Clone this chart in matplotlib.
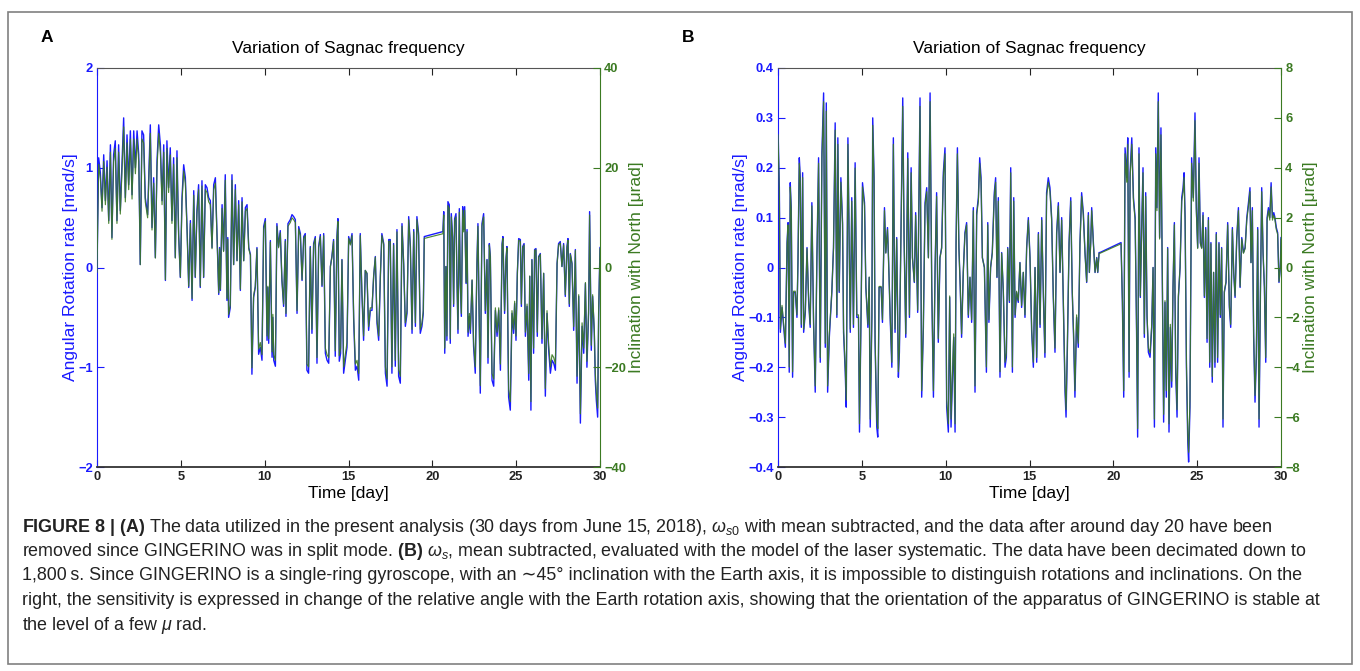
import numpy as np
import matplotlib
matplotlib.use("Agg")
import matplotlib.pyplot as plt
from matplotlib.patches import Rectangle

plt.rcParams['font.family'] = ['Liberation Sans', 'DejaVu Sans']
plt.rcParams['mathtext.fontset'] = 'custom'
plt.rcParams['mathtext.rm'] = 'Liberation Sans'
plt.rcParams['mathtext.it'] = 'Liberation Sans:italic'
plt.rcParams['mathtext.bf'] = 'Liberation Sans:bold'

# (day, angular rotation rate [nrad/s])
samples_a = [
    (0.00, -0.05), (0.04, 0.45), (0.10, 1.10), (0.20, 0.95), (0.30, 0.60), (0.40, 1.13),
    (0.50, 0.67), (0.60, 1.07), (0.70, 0.47), (0.80, 1.23), (0.89, 0.30), (0.99, 1.13),
    (1.09, 1.27), (1.19, 0.47), (1.29, 1.23), (1.39, 0.57), (1.59, 1.50), (1.69, 0.70),
    (1.79, 1.33), (1.89, 0.83), (1.99, 1.37), (2.09, 0.73), (2.19, 1.37), (2.29, 1.00),
    (2.39, 1.37), (2.49, 1.13), (2.58, 0.03), (2.68, 1.37), (2.78, 1.33), (2.88, 0.70),
    (3.02, 0.53), (3.18, 1.43), (3.28, 0.40), (3.38, 0.90), (3.48, 0.10), (3.58, 1.07),
    (3.68, 1.43), (3.78, 1.23), (3.88, 0.67), (3.98, 1.23), (4.08, -0.13), (4.17, 1.27),
    (4.27, 0.80), (4.37, 1.20), (4.47, 0.47), (4.57, 1.10), (4.67, 0.10), (4.77, 1.17),
    (4.87, 0.33), (4.97, -0.10), (5.07, 0.70), (5.17, 1.03), (5.27, 0.90), (5.37, 0.40),
    (5.47, -0.20), (5.57, 0.47), (5.67, -0.33), (5.77, 0.77), (5.86, -0.10), (5.96, 0.57),
    (6.06, 0.83), (6.16, -0.20), (6.26, 0.87), (6.36, -0.10), (6.46, 0.83), (6.56, 0.80),
    (6.66, 0.70), (6.76, 0.67), (6.86, 0.20), (6.96, 0.83), (7.06, 0.90), (7.16, 0.30),
    (7.26, -0.27), (7.31, 0.20), (7.36, -0.23), (7.46, 0.63), (7.55, 0.17), (7.65, 0.93),
    (7.75, -0.33), (7.80, 0.30), (7.85, -0.50), (7.95, -0.40), (8.05, 0.93), (8.15, 0.03),
    (8.25, 0.83), (8.35, 0.07), (8.45, 0.67), (8.55, -0.23), (8.65, 0.70), (8.75, 0.07),
    (8.85, 0.60), (8.95, 0.63), (9.05, 0.20), (9.15, 0.13), (9.24, -1.07), (9.34, -0.30),
    (9.44, -0.20), (9.54, 0.20), (9.64, -0.87), (9.74, -0.80), (9.84, -0.93), (9.94, 0.41),
    (10.04, 0.49), (10.14, -0.73), (10.19, -0.20), (10.24, -0.76), (10.34, 0.27), (10.44, -0.90),
    (10.49, -0.50), (10.54, -0.93), (10.64, -0.99), (10.73, 0.44), (10.83, 0.21), (10.93, 0.37),
    (11.03, -0.13), (11.13, -0.39), (11.23, 0.28), (11.27, -0.49), (11.39, 0.44), (11.53, 0.48),
    (11.63, 0.53), (11.73, 0.51), (11.83, 0.48), (11.93, -0.46), (12.03, 0.41), (12.13, 0.34),
    (12.23, -0.13), (12.33, 0.31), (12.42, 0.34), (12.52, -1.03), (12.62, -1.06), (12.72, 0.21),
    (12.82, -0.66), (12.92, 0.24), (13.02, 0.31), (13.12, -0.96), (13.22, 0.21), (13.32, 0.33),
    (13.42, -0.19), (13.52, 0.34), (13.62, -0.86), (13.72, -0.93), (13.82, -0.96), (13.92, 0.01),
    (14.01, 0.11), (14.11, 0.28), (14.21, -0.89), (14.31, 0.31), (14.37, 0.49), (14.45, -0.94),
    (14.53, -0.86), (14.61, 0.08), (14.71, -1.06), (14.81, -0.93), (14.91, -0.80), (15.01, 0.31),
    (15.11, 0.24), (15.21, 0.34), (15.31, -0.53), (15.41, -1.03), (15.51, -0.99), (15.61, -1.13),
    (15.70, 0.34), (15.80, -0.26), (15.90, -0.73), (16.00, -0.03), (16.10, -0.06), (16.20, -0.63),
    (16.30, -0.43), (16.40, -0.43), (16.50, -0.09), (16.60, 0.11), (16.70, -0.56), (16.80, -0.73),
    (16.90, -0.09), (16.99, 0.34), (17.10, 0.24), (17.20, -1.06), (17.30, -1.19), (17.40, 0.28),
    (17.49, 0.28), (17.59, -1.06), (17.69, 0.24), (17.79, -0.99), (17.89, 0.38), (17.99, -1.09),
    (18.09, -1.16), (18.19, 0.44), (18.29, 0.04), (18.39, -0.59), (18.49, -0.46), (18.59, 0.51),
    (18.69, 0.21), (18.79, -0.66), (18.89, 0.38), (18.99, -0.59), (19.08, 0.51), (19.18, 0.34),
    (19.28, -0.66), (19.38, -0.59), (19.46, -0.46), (19.52, 0.31),
    (20.63, 0.36), (20.68, 0.56), (20.74, -0.86), (20.81, 0.01), (20.87, -0.73), (20.93, 0.66),
    (21.01, 0.63), (21.07, -0.76), (21.13, 0.54), (21.21, 0.31), (21.27, -0.39), (21.33, 0.49),
    (21.41, 0.54), (21.47, -0.13), (21.53, -0.66), (21.61, 0.59), (21.67, -0.16), (21.73, -0.49),
    (21.81, 0.61), (21.87, 0.38), (21.93, 0.61), (22.01, -0.16), (22.07, 0.38), (22.13, -0.69),
    (22.21, -0.49), (22.27, -0.66), (22.37, -0.13), (22.46, -0.79), (22.56, -1.06), (22.66, 0.04),
    (22.72, 0.44), (22.80, -0.59), (22.86, -1.26), (22.96, 0.44), (23.06, 0.54), (23.16, -0.46),
    (23.26, 0.08), (23.32, -0.96), (23.40, 0.24), (23.46, 0.11), (23.56, -1.13), (23.66, -1.19),
    (23.76, -0.43), (23.86, -0.69), (23.96, -0.43), (24.06, -1.03), (24.16, 0.24), (24.21, 0.31),
    (24.31, -0.46), (24.39, 0.08), (24.45, 0.21), (24.55, -1.30), (24.65, -1.43), (24.75, -0.46),
    (24.85, -0.66), (24.91, -0.36), (24.99, -0.73), (25.07, -0.06), (25.15, 0.29), (25.25, 0.28),
    (25.31, -0.39), (25.39, 0.21), (25.47, 0.24), (25.55, -0.69), (25.65, -0.39), (25.75, -1.13),
    (25.81, -0.09), (25.88, -1.43), (25.94, 0.08), (26.04, -0.86), (26.10, 0.18), (26.18, 0.19),
    (26.26, -0.69), (26.34, 0.11), (26.44, 0.14), (26.54, -0.76), (26.64, -0.06), (26.74, -1.29),
    (26.84, -0.46), (26.94, -0.83), (27.04, -1.06), (27.14, -0.93), (27.24, -0.96), (27.34, -1.03),
    (27.44, 0.04), (27.53, 0.24), (27.63, 0.26), (27.73, 0.01), (27.83, 0.24), (27.93, -0.29),
    (28.03, 0.21), (28.09, 0.29), (28.17, -0.39), (28.23, 0.14), (28.33, 0.04), (28.43, -0.63),
    (28.53, 0.18), (28.63, -1.16), (28.73, -0.29), (28.83, -1.56), (28.93, -0.59), (29.03, -0.86),
    (29.13, -0.16), (29.22, -1.00), (29.32, -0.46), (29.38, 0.56), (29.48, -0.83), (29.56, -0.29),
    (29.66, -0.66), (29.72, -1.13), (29.78, -1.33), (29.86, -1.50), (29.92, -0.46), (30.00, 0.20),
]

# (day, angular rotation rate [nrad/s])
samples_b = [
    (0.00, 0.28), (0.08, 0.16), (0.14, -0.13), (0.24, -0.08), (0.34, -0.12), (0.44, -0.16),
    (0.54, 0.05), (0.60, 0.09), (0.67, -0.21), (0.73, 0.17), (0.79, 0.12), (0.87, -0.22),
    (0.93, -0.05), (1.03, -0.05), (1.13, -0.10), (1.19, 0.01), (1.27, 0.22), (1.33, 0.18),
    (1.39, -0.12), (1.47, 0.19), (1.53, -0.13), (1.63, -0.09), (1.73, 0.04), (1.83, -0.07),
    (1.92, -0.12), (2.02, 0.13), (2.12, -0.11), (2.22, -0.25), (2.32, 0.02), (2.42, 0.22),
    (2.52, -0.19), (2.62, 0.23), (2.72, 0.35), (2.82, -0.16), (2.88, 0.33), (2.96, -0.25),
    (3.06, -0.14), (3.21, -0.05), (3.31, 0.04), (3.41, 0.29), (3.51, -0.10), (3.57, 0.26),
    (3.65, -0.05), (3.75, 0.18), (3.85, 0.09), (3.91, -0.13), (4.01, -0.21), (4.07, -0.28),
    (4.17, 0.26), (4.31, -0.13), (4.40, 0.14), (4.50, -0.12), (4.60, 0.21), (4.70, -0.10),
    (4.80, -0.10), (4.86, -0.33), (4.96, -0.08), (5.04, 0.17), (5.16, 0.13), (5.24, -0.04),
    (5.36, -0.12), (5.44, -0.02), (5.50, -0.32), (5.60, -0.10), (5.65, 0.30), (5.73, 0.18),
    (5.79, -0.15), (5.89, -0.32), (5.95, -0.34), (6.03, -0.04), (6.15, -0.04), (6.23, -0.11),
    (6.35, 0.12), (6.43, 0.03), (6.53, 0.08), (6.59, 0.02), (6.69, -0.10), (6.79, -0.20),
    (6.88, 0.26), (6.98, -0.13), (7.08, 0.06), (7.18, -0.22), (7.24, -0.17), (7.34, 0.09),
    (7.44, 0.34), (7.52, 0.06), (7.62, -0.14), (7.74, 0.23), (7.84, -0.10), (7.94, 0.20),
    (8.02, 0.02), (8.13, -0.03), (8.21, 0.11), (8.33, -0.09), (8.41, 0.15), (8.47, 0.34),
    (8.57, -0.26), (8.67, -0.12), (8.77, 0.13), (8.87, 0.16), (8.97, 0.02), (9.07, 0.35),
    (9.17, -0.04), (9.27, -0.26), (9.37, 0.00), (9.46, 0.15), (9.56, -0.15), (9.66, 0.02),
    (9.76, 0.04), (9.86, 0.19), (9.96, 0.24), (10.06, -0.28), (10.16, -0.33), (10.24, -0.06),
    (10.32, -0.32), (10.40, -0.23), (10.48, -0.14), (10.56, -0.33), (10.62, 0.05), (10.70, 0.24),
    (10.79, 0.04), (10.87, -0.04), (10.95, -0.14), (11.05, -0.01), (11.15, 0.07), (11.25, 0.09),
    (11.35, -0.10), (11.45, -0.02), (11.55, -0.11), (11.65, 0.12), (11.75, -0.25), (11.85, 0.11),
    (11.95, 0.14), (12.03, 0.22), (12.11, 0.18), (12.19, 0.02), (12.31, 0.00), (12.43, -0.21),
    (12.51, 0.09), (12.58, -0.11), (12.68, 0.00), (12.78, 0.03), (12.90, 0.15), (12.98, 0.18),
    (13.06, -0.02), (13.14, 0.14), (13.24, -0.22), (13.34, 0.03), (13.44, -0.05), (13.54, -0.20),
    (13.62, -0.18), (13.70, 0.04), (13.80, -0.07), (13.88, 0.20), (13.98, -0.21), (14.06, 0.14),
    (14.14, -0.10), (14.23, -0.05), (14.33, -0.07), (14.43, 0.01), (14.53, -0.08), (14.63, -0.01),
    (14.73, -0.10), (14.83, 0.04), (14.93, 0.10), (15.03, 0.02), (15.13, -0.13), (15.23, -0.20),
    (15.33, 0.00), (15.43, -0.19), (15.53, 0.07), (15.63, -0.12), (15.73, 0.10), (15.83, -0.06),
    (15.92, -0.18), (16.02, 0.15), (16.12, 0.18), (16.22, 0.16), (16.32, 0.10), (16.42, -0.06),
    (16.52, -0.17), (16.62, 0.07), (16.72, 0.13), (16.82, -0.01), (16.92, 0.10), (17.02, -0.07),
    (17.12, -0.25), (17.18, -0.30), (17.26, -0.16), (17.36, 0.05), (17.46, 0.14), (17.55, -0.05),
    (17.63, -0.14), (17.71, -0.26), (17.81, -0.10), (17.91, -0.16), (18.01, 0.05), (18.11, 0.15),
    (18.21, 0.11), (18.31, 0.03), (18.41, -0.03), (18.51, 0.11), (18.57, -0.01), (18.65, 0.05),
    (18.71, 0.12), (18.81, 0.05), (18.91, -0.01), (19.01, 0.02), (19.07, -0.01), (19.15, 0.03),
    (19.20, 0.03),
    (20.46, 0.05), (20.54, -0.07), (20.62, -0.26), (20.70, 0.24), (20.80, 0.18), (20.86, 0.26),
    (20.94, -0.22), (21.00, 0.19), (21.10, 0.26), (21.20, 0.14), (21.30, 0.10), (21.39, -0.14),
    (21.45, -0.34), (21.53, 0.24), (21.61, -0.06), (21.69, 0.08), (21.77, 0.20), (21.85, -0.14),
    (21.93, 0.15), (22.01, -0.10), (22.09, -0.17), (22.19, -0.18), (22.29, -0.12), (22.37, 0.00),
    (22.45, -0.32), (22.53, 0.24), (22.60, 0.12), (22.68, 0.35), (22.76, 0.06), (22.84, 0.28),
    (22.92, -0.01), (23.00, -0.31), (23.08, -0.07), (23.16, -0.26), (23.24, 0.04), (23.32, -0.33),
    (23.40, -0.12), (23.48, -0.24), (23.56, -0.04), (23.64, 0.09), (23.72, -0.21), (23.80, -0.30),
    (23.88, -0.06), (23.98, 0.00), (24.08, 0.14), (24.16, 0.16), (24.22, 0.19), (24.28, 0.10),
    (24.36, -0.20), (24.44, -0.35), (24.49, -0.39), (24.57, -0.28), (24.67, 0.22), (24.77, 0.14),
    (24.87, 0.31), (24.95, 0.12), (25.03, 0.04), (25.11, 0.22), (25.19, 0.05), (25.27, 0.04),
    (25.35, 0.11), (25.43, -0.06), (25.51, 0.08), (25.59, -0.15), (25.67, 0.10), (25.75, -0.20),
    (25.82, 0.05), (25.90, -0.23), (25.98, -0.01), (26.06, -0.20), (26.14, 0.07), (26.22, -0.19),
    (26.30, 0.05), (26.38, -0.10), (26.46, 0.04), (26.54, -0.32), (26.62, -0.05), (26.72, -0.03),
    (26.82, 0.09), (26.92, -0.08), (27.00, -0.12), (27.10, 0.08), (27.18, -0.01), (27.26, -0.06),
    (27.36, 0.06), (27.46, 0.12), (27.56, -0.04), (27.66, 0.06), (27.76, 0.03), (27.86, 0.04),
    (27.96, 0.10), (28.06, 0.13), (28.15, 0.16), (28.21, 0.01), (28.29, 0.12), (28.37, -0.14),
    (28.45, -0.27), (28.53, -0.18), (28.61, 0.08), (28.69, -0.32), (28.77, -0.06), (28.85, 0.16),
    (28.93, 0.03), (29.01, -0.04), (29.09, -0.19), (29.17, 0.10), (29.25, 0.12), (29.33, 0.10),
    (29.41, 0.17), (29.49, 0.10), (29.57, 0.11), (29.64, 0.10), (29.72, 0.08), (29.80, 0.07),
    (29.88, -0.03), (29.96, 0.00), (30.00, 0.06),
]

# inclination with North (µrad) per nrad/s
urad_per_rate_a = 18.8
urad_per_rate_b = 19.0

day_a, rate_a = np.array(samples_a).T
day_b, rate_b = np.array(samples_b).T

rate_ticks_a = [-2, -1, 0, 1, 2]
incl_ticks_a = [-40, -20, 0, 20, 40]
rate_ticks_b = [-0.4, -0.3, -0.2, -0.1, 0, 0.1, 0.2, 0.3, 0.4]
incl_ticks_b = [-8, -6, -4, -2, 0, 2, 4, 6, 8]
day_ticks = [0, 5, 10, 15, 20, 25, 30]

BLUE = '#1a1aff'
GREEN = '#3b7a22'

W, H = 1360, 671
fig = plt.figure(figsize=(W / 100, H / 100), dpi=100)


def panel(x0, rate_days, rate, k, rticks, iticks, rfmt):
    ax = fig.add_axes([x0 / W, 1 - 467 / H, 503 / W, 399 / H])
    ax2 = ax.twinx()
    ax.plot(rate_days, rate, color=BLUE, lw=1.0)
    ax2.plot(rate_days, rate * k, color=GREEN, lw=0.85, alpha=0.9)
    ax.set_xlim(0, 30)
    ax.set_ylim(rticks[0], rticks[-1])
    ax2.set_ylim(iticks[0], iticks[-1])
    ax.set_xticks(day_ticks)
    ax.set_yticks(rticks)
    ax.set_yticklabels([rfmt(t) for t in rticks])
    ax2.set_yticks(iticks)
    ax2.set_yticklabels([str(t).replace('-', '\u2212') for t in iticks])
    ax.tick_params(axis='x', direction='in', length=5, width=0.8, top=True,
                   labelsize=9.3, pad=3, colors='#222222')
    ax.tick_params(axis='y', direction='in', length=5, width=0.8, colors=BLUE,
                   labelsize=9.3, pad=3)
    ax2.tick_params(axis='y', direction='in', length=5, width=0.8, colors=GREEN,
                    labelsize=9.3, pad=3)
    for t in ax.get_xticklabels() + ax.get_yticklabels() + ax2.get_yticklabels():
        t.set_fontweight('bold')
    ax.spines['left'].set_color(BLUE)
    ax.spines['bottom'].set_color('#333333')
    ax.spines['bottom'].set_linewidth(1.3)
    ax.spines['top'].set_color('#555555')
    ax.spines['right'].set_visible(False)
    ax2.spines['right'].set_color(GREEN)
    ax2.spines['left'].set_visible(False)
    ax2.spines['top'].set_visible(False)
    ax2.spines['bottom'].set_visible(False)
    ax.set_xlabel('Time [day]', fontsize=12.5, labelpad=2)
    ax.set_ylabel('Angular Rotation rate [nrad/s]', fontsize=12.5, color=BLUE, labelpad=0)
    ax2.set_ylabel('Inclination with North [\u03bcrad]', fontsize=12.5, color=GREEN, labelpad=2)
    fig.text((x0 + 251.5) / W, 1 - 49 / H, 'Variation of Sagnac frequency',
             ha='center', va='center', fontsize=12.5)
    return ax


panel(97, day_a, rate_a, urad_per_rate_a, rate_ticks_a, incl_ticks_a,
      lambda t: str(int(t)).replace('-', '\u2212'))
panel(778, day_b, rate_b, urad_per_rate_b, rate_ticks_b, incl_ticks_b,
      lambda t: ('0' if t == 0 else f'{t:.1f}').replace('-', '\u2212'))

fig.text(47 / W, 1 - 37 / H, 'A', fontsize=12.5, fontweight='bold', ha='center', va='center')
fig.text(688 / W, 1 - 37 / H, 'B', fontsize=12.5, fontweight='bold', ha='center', va='center')

caption = [
    r'$\mathbf{FIGURE\ 8\ |\ (A)}$ The data utilized in the present analysis (30 days from June 15, 2018), '
    r'$\omega_{s0}$ with mean subtracted, and the data after around day 20 have been',
    r'removed since GINGERINO was in split mode. $\mathbf{(B)}$ $\omega_s$, mean subtracted, evaluated '
    r'with the model of the laser systematic. The data have been decimated down to',
    '1,800\u2009s. Since GINGERINO is a single-ring gyroscope, with an \u223c45\u00b0 inclination with '
    'the Earth axis, it is impossible to distinguish rotations and inclinations. On the',
    'right, the sensitivity is expressed in change of the relative angle with the Earth rotation axis, '
    'showing that the orientation of the apparatus of GINGERINO is stable at',
    r'the level of a few $\mu$ rad.',
]
for i, line in enumerate(caption):
    fig.text(22 / W, 1 - (527 + 24.5 * i) / H, line, fontsize=12.9, ha='left', va='center',
             color='#222222')

fig.add_artist(Rectangle((8 / W, 1 - 664 / H), 1344 / W, 652 / H, transform=fig.transFigure,
                         fill=False, ec='#808080', lw=1.2))

fig.savefig('out.png', dpi=100)
